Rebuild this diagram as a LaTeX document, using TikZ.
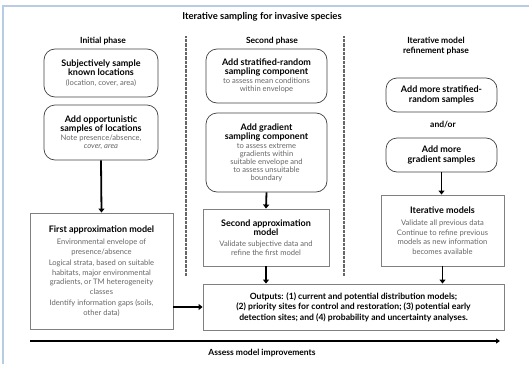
\documentclass[tikz,border=0pt]{standalone}
\usepackage{fontspec}
\setmainfont{Lato}
\usetikzlibrary{arrows.meta}
\definecolor{frameblue}{HTML}{B8CCE4}
\definecolor{bodygray}{HTML}{666666}
\tikzset{
  rbox/.style={draw=black!75, line width=0.7pt, rounded corners=11pt, align=center, inner sep=2pt, font=\fontsize{8}{9.5}\selectfont},
  sbox/.style={draw=black!50, line width=0.9pt, align=center, inner sep=2pt, font=\fontsize{8}{9.5}\selectfont},
  hd/.style={font=\bfseries\fontsize{8.5}{10}\selectfont},
  arr/.style={line width=1.8pt, -{Triangle[width=6pt,length=4pt]}},
  dots/.style={black!60, line width=1.8pt, dash pattern=on 0.6pt off 0.7pt},
}
\newcommand{\bt}[1]{{\bfseries\fontsize{9}{10}\selectfont #1}}
\newcommand{\gt}[1]{{\color{bodygray}\fontsize{7.6}{9}\selectfont #1}}
\begin{document}
\begin{tikzpicture}[x=1pt,y=-1pt]
\useasboundingbox (0,0) rectangle (529,364);
\draw[frameblue, line width=1.5pt] (3,364) -- (3,6) -- (529,6);
\node[font=\bfseries\fontsize{9.5}{11}\selectfont] (title) at (262,17) {Iterative sampling for invasive species};
\node[hd] (h1) at (103,41) {Initial phase};
\node[hd] (h2) at (272,41) {Second phase};
\node[hd, align=center] (h3) at (436,46) {Iterative model\\refinement phase};
\coordinate (d1t) at (186,36); \coordinate (d1b) at (186,276);
\coordinate (d2t) at (344,36); \coordinate (d2b) at (344,276);
\draw[dots] (d1t) -- (d1b);
\draw[dots] (d2t) -- (d2b);
% initial phase
\node[rbox, minimum width=114pt, minimum height=48pt] (b1) at (101,73)
  {\bt{Subjectively sample}\\\bt{known locations}\\\gt{(location, cover, area)}};
\node[rbox, minimum width=114pt, minimum height=55pt] (b2) at (101,132.5)
  {\bt{Add opportunistic}\\\bt{samples of locations}\\[-1pt]\gt{Note presence/absence,}\\[-1pt]\gt{\itshape cover, area}};
\node[sbox, minimum width=143pt, minimum height=116pt] (fa) at (101.5,271)
  {\bt{First approximation model}\\[3pt]
   \gt{Environmental envelope of}\\\gt{presence/absence}\\[2pt]
   \gt{Logical strata, based on suitable}\\\gt{habitats, major environmental}\\\gt{gradients, or TM heterogeneity}\\\gt{classes}\\[2pt]
   \gt{Identify information gaps (soils,}\\\gt{other data)}};
% second phase
\node[rbox, minimum width=121pt, minimum height=54pt] (sa) at (266.5,76)
  {\bt{Add stratified-random}\\\bt{sampling component}\\[-1pt]\gt{to assess mean conditions}\\[-1pt]\gt{within envelope}};
\node[rbox, minimum width=121pt, minimum height=79pt] (sg) at (266.5,152.5)
  {\bt{Add gradient}\\\bt{sampling component}\\[-1pt]\gt{to assess extreme}\\[-1.5pt]\gt{gradients within}\\[-1.5pt]\gt{suitable envelope and}\\[-1.5pt]\gt{to assess unsuitable}\\[-1.5pt]\gt{boundary}};
\node[sbox, minimum width=126pt, minimum height=57pt] (sm) at (266,237.5)
  {\bt{Second approximation}\\\bt{model}\\[1pt]\gt{Validate subjective data and}\\\gt{refine the first model}};
% third phase
\node[rbox, minimum width=111pt, minimum height=34pt] (rc) at (441.5,95)
  {\bt{Add more stratified-}\\\bt{random samples}};
\node[hd] (andor) at (443,125) {and/or};
\node[rbox, minimum width=111pt, minimum height=34pt] (rd) at (441.5,155)
  {\bt{Add more}\\\bt{gradient samples}};
\node[sbox, minimum width=123pt, minimum height=71pt] (im) at (442.5,230.5)
  {\bt{Iterative models}\\[3pt]\gt{Validate all previous data}\\\gt{Continue to refine previous}\\\gt{models as new information}\\\gt{becomes available}};
% outputs
\node[sbox, minimum width=301pt, minimum height=46pt, font=\bfseries\fontsize{8.6}{10.5}\selectfont] (out) at (353.5,307)
  {Outputs: (1) current and potential distribution models;\\
   (2) priority sites for control and restoration; (3) potential early\\
   detection sites; and (4) probability and uncertainty analyses.};
% arrows
\draw[arr] (b2.south) -- (fa.north);
\draw[arr] (sg.south) -- (sm.north);
\draw[arr] (sm.south) -- (sm.south |- out.north);
\draw[arr] (rd.south) -- (rd.south |- im.north);
\draw[arr] (im.south) -- (im.south |- out.north);
\draw[arr] (fa.east |- 0,307) -- (out.west);
% bottom
\coordinate (bl) at (30,341); \coordinate (br) at (500,341);
\draw[line width=1.5pt, -{Triangle[width=5pt,length=4pt]}] (bl) -- (br);
\node[hd] (assess) at (262,353) {Assess model improvements};
\end{tikzpicture}
\end{document}
